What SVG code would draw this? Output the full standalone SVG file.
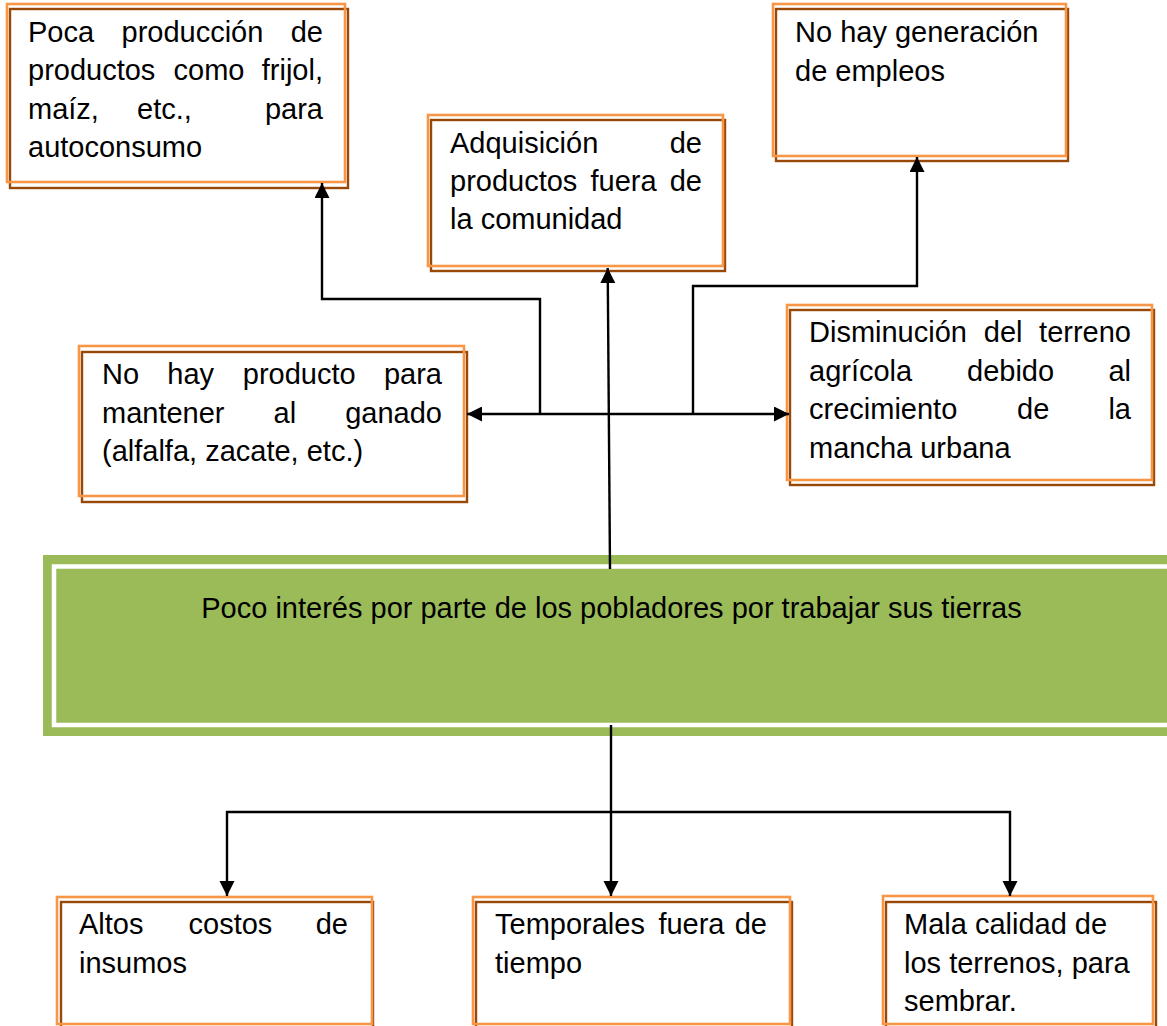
<svg xmlns="http://www.w3.org/2000/svg" width="1167" height="1026" viewBox="0 0 1167 1026">
<defs>
<style>
.o{fill:none;stroke:#F79646;stroke-width:2.6}
.b{fill:none;stroke:#984807;stroke-width:2.4}
.t{font-family:"Liberation Sans",Arial,sans-serif;font-size:29px;fill:#000}
.c{fill:none;stroke:#000;stroke-width:2.4}
</style>
<marker id="ah" markerUnits="userSpaceOnUse" markerWidth="16" markerHeight="16" refX="15" refY="7.5" orient="auto">
<path d="M0,0 L15,7.5 L0,15 Z" fill="#000"/>
</marker>
<marker id="as" markerUnits="userSpaceOnUse" markerWidth="16" markerHeight="16" refX="0" refY="7.5" orient="auto">
<path d="M15,0 L0,7.5 L15,15 Z" fill="#000"/>
</marker>
</defs>
<rect width="1167" height="1026" fill="#fff"/>

<g id="node-poca-produccion">
<rect class="b" x="10" y="9" width="338" height="179"/>
<rect class="o" x="7" y="4" width="338" height="178"/>
<text class="t" x="28" y="41.7">Poca</text>
<text class="t" x="121.5" y="41.7">producción</text>
<text class="t" x="323" y="41.7" text-anchor="end">de</text>
<text class="t" x="28" y="80.2">productos</text>
<text class="t" x="173.5" y="80.2">como</text>
<text class="t" x="323" y="80.2" text-anchor="end">frijol,</text>
<text class="t" x="28" y="118.8">maíz,</text>
<text class="t" x="137" y="118.8">etc.,</text>
<text class="t" x="323" y="118.8" text-anchor="end">para</text>
<text class="t" x="28" y="157.3">autoconsumo</text>
</g>

<g id="node-generacion-empleos">
<rect class="b" x="776" y="9" width="292" height="152"/>
<rect class="o" x="773" y="4" width="293" height="152"/>
<text class="t" x="795" y="42">No hay generación</text>
<text class="t" x="795" y="80.5">de empleos</text>
</g>

<g id="node-adquisicion">
<rect class="b" x="431" y="120" width="294" height="151"/>
<rect class="o" x="428" y="115" width="295" height="151"/>
<text class="t" x="450" y="152.7">Adquisición</text>
<text class="t" x="702" y="152.7" text-anchor="end">de</text>
<text class="t" x="450" y="191">productos</text>
<text class="t" x="590.5" y="191">fuera</text>
<text class="t" x="702" y="191" text-anchor="end">de</text>
<text class="t" x="450" y="229.3">la comunidad</text>
</g>

<g id="node-ganado">
<rect class="b" x="82" y="352" width="385" height="150"/>
<rect class="o" x="79" y="346" width="385" height="150"/>
<text class="t" x="102" y="384.3">No</text>
<text class="t" x="167.3" y="384.3">hay</text>
<text class="t" x="242.8" y="384.3">producto</text>
<text class="t" x="442" y="384.3" text-anchor="end">para</text>
<text class="t" x="102" y="422.7">mantener</text>
<text class="t" x="273.5" y="422.7">al</text>
<text class="t" x="442" y="422.7" text-anchor="end">ganado</text>
<text class="t" x="102" y="461">(alfalfa, zacate, etc.)</text>
</g>

<g id="node-disminucion">
<rect class="b" x="790" y="310" width="364" height="175"/>
<rect class="o" x="787" y="305" width="365" height="175"/>
<text class="t" x="809" y="341.7">Disminución</text>
<text class="t" x="983.8" y="341.7">del</text>
<text class="t" x="1131" y="341.7" text-anchor="end">terreno</text>
<text class="t" x="809" y="380.5">agrícola</text>
<text class="t" x="967" y="380.5">debido</text>
<text class="t" x="1131" y="380.5" text-anchor="end">al</text>
<text class="t" x="809" y="419.4">crecimiento</text>
<text class="t" x="1017" y="419.4">de</text>
<text class="t" x="1131" y="419.4" text-anchor="end">la</text>
<text class="t" x="809" y="458.2">mancha urbana</text>
</g>

<g id="node-problema">
<rect x="43" y="555" width="1140" height="181" fill="#9BBB59"/>
<rect x="54" y="566.5" width="1130" height="158.5" fill="none" stroke="#fff" stroke-width="4.5"/>
<text class="t" x="611.5" y="618" text-anchor="middle">Poco interés por parte de los pobladores por trabajar sus tierras</text>
</g>

<g id="node-altos-costos">
<rect class="b" x="61" y="902" width="312" height="128"/>
<rect class="o" x="57" y="897" width="315" height="127"/>
<text class="t" x="79" y="934">Altos</text>
<text class="t" x="188.5" y="934">costos</text>
<text class="t" x="348" y="934" text-anchor="end">de</text>
<text class="t" x="79" y="973">insumos</text>
</g>

<g id="node-temporales">
<rect class="b" x="476" y="902" width="316" height="128"/>
<rect class="o" x="473" y="897" width="317" height="127"/>
<text class="t" x="495" y="934">Temporales</text>
<text class="t" x="658.4" y="934">fuera</text>
<text class="t" x="767" y="934" text-anchor="end">de</text>
<text class="t" x="495" y="973">tiempo</text>
</g>

<g id="node-mala-calidad">
<rect class="b" x="886" y="902" width="270" height="128"/>
<rect class="o" x="883" y="896" width="270" height="128"/>
<text class="t" x="904" y="934">Mala calidad de</text>
<text class="t" x="904" y="973">los terrenos, para</text>
<text class="t" x="904" y="1011">sembrar.</text>
</g>

<g id="connectors">
<path class="c" d="M610,569 L607.7,268" marker-end="url(#ah)"/>
<path class="c" d="M467,414 L789,414" marker-start="url(#as)" marker-end="url(#ah)"/>
<path class="c" d="M540,414 V299 H322 V183" marker-end="url(#ah)"/>
<path class="c" d="M693,414 V286 H917 V157" marker-end="url(#ah)"/>
<path class="c" d="M611,725 V896" marker-end="url(#ah)"/>
<path class="c" d="M611,812 H227 V896" marker-end="url(#ah)"/>
<path class="c" d="M611,812 H1010 V896" marker-end="url(#ah)"/>
</g>
</svg>
